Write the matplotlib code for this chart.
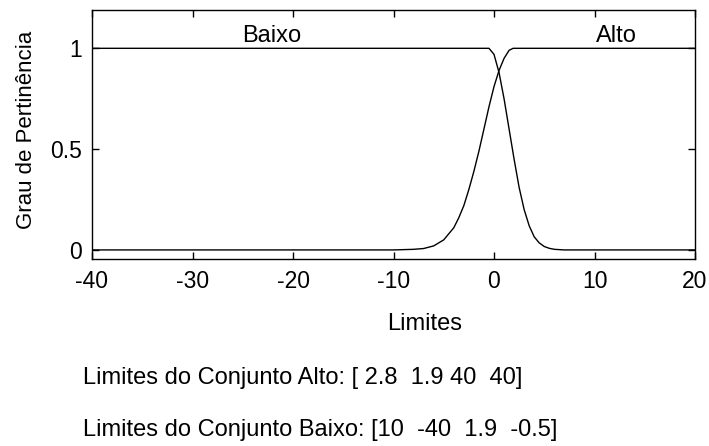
import matplotlib
matplotlib.use("Agg")
import matplotlib.pyplot as plt

# values
alto_x = [-40, -10, -8, -7, -6, -5, -4, -3.5, -3, -2.5, -2, -1.5, -1, -0.5, 0, 0.5, 1, 1.5, 1.9, 20]
alto_y = [0, 0, 0.003, 0.007, 0.02, 0.05, 0.11, 0.16, 0.22, 0.30, 0.39, 0.49, 0.60, 0.71, 0.81, 0.89, 0.95, 0.99, 1, 1]

baixo_x = [-40, -0.5, 0, 0.5, 1, 1.5, 2, 2.5, 3, 3.5, 4, 4.5, 5, 5.5, 6, 7, 20]
baixo_y = [1, 1, 0.97, 0.88, 0.75, 0.60, 0.45, 0.31, 0.20, 0.12, 0.065, 0.035, 0.017, 0.008, 0.003, 0, 0]

yticks = [0, 0.5, 1]
ytick_labels = ["0", "0.5", "1"]
xticks = [-40, -30, -20, -10, 0, 10, 20]

plt.rcParams['font.family'] = ['Liberation Sans', 'DejaVu Sans']
plt.rcParams['axes.unicode_minus'] = False

fs = 17

fig = plt.figure(figsize=(7.09, 4.46), dpi=100)
ax = fig.add_axes([92 / 709, 1 - 259 / 446, 603 / 709, 249 / 446])

ax.plot(baixo_x, baixo_y, color="black", linewidth=1)
ax.plot(alto_x, alto_y, color="black", linewidth=1)

ax.set_xlim(-40, 20)
ax.set_ylim(-0.045, 1.19)
ax.set_xticks(xticks)
ax.set_yticks(yticks)
ax.set_yticklabels(ytick_labels)
ax.tick_params(direction="in", top=True, right=True, length=5, labelsize=16.5, width=1)
ax.tick_params(axis="x", pad=8)
ax.tick_params(axis="y", pad=7)
for sp in ax.spines.values():
    sp.set_linewidth(1)

ax.text(-22.1, 1.03, "Baixo", ha="center", va="baseline", fontsize=fs)
ax.text(12.2, 1.03, "Alto", ha="center", va="baseline", fontsize=fs)

fig.text(27 / 709, 1 - 130 / 446, "Grau de Pertinência", rotation=90,
         ha="center", va="center", fontsize=16)
fig.text(425 / 709, 1 - 324 / 446, "Limites", ha="center", va="center", fontsize=fs)

fig.text(83 / 709, 1 - 378 / 446, "Limites do Conjunto Alto: [ 2.8  1.9 40  40]",
         fontsize=fs, ha="left", va="center")
fig.text(83 / 709, 1 - 430 / 446, "Limites do Conjunto Baixo: [10  -40  1.9  -0.5]",
         fontsize=fs, ha="left", va="center")

fig.savefig("out.png", dpi=100)
